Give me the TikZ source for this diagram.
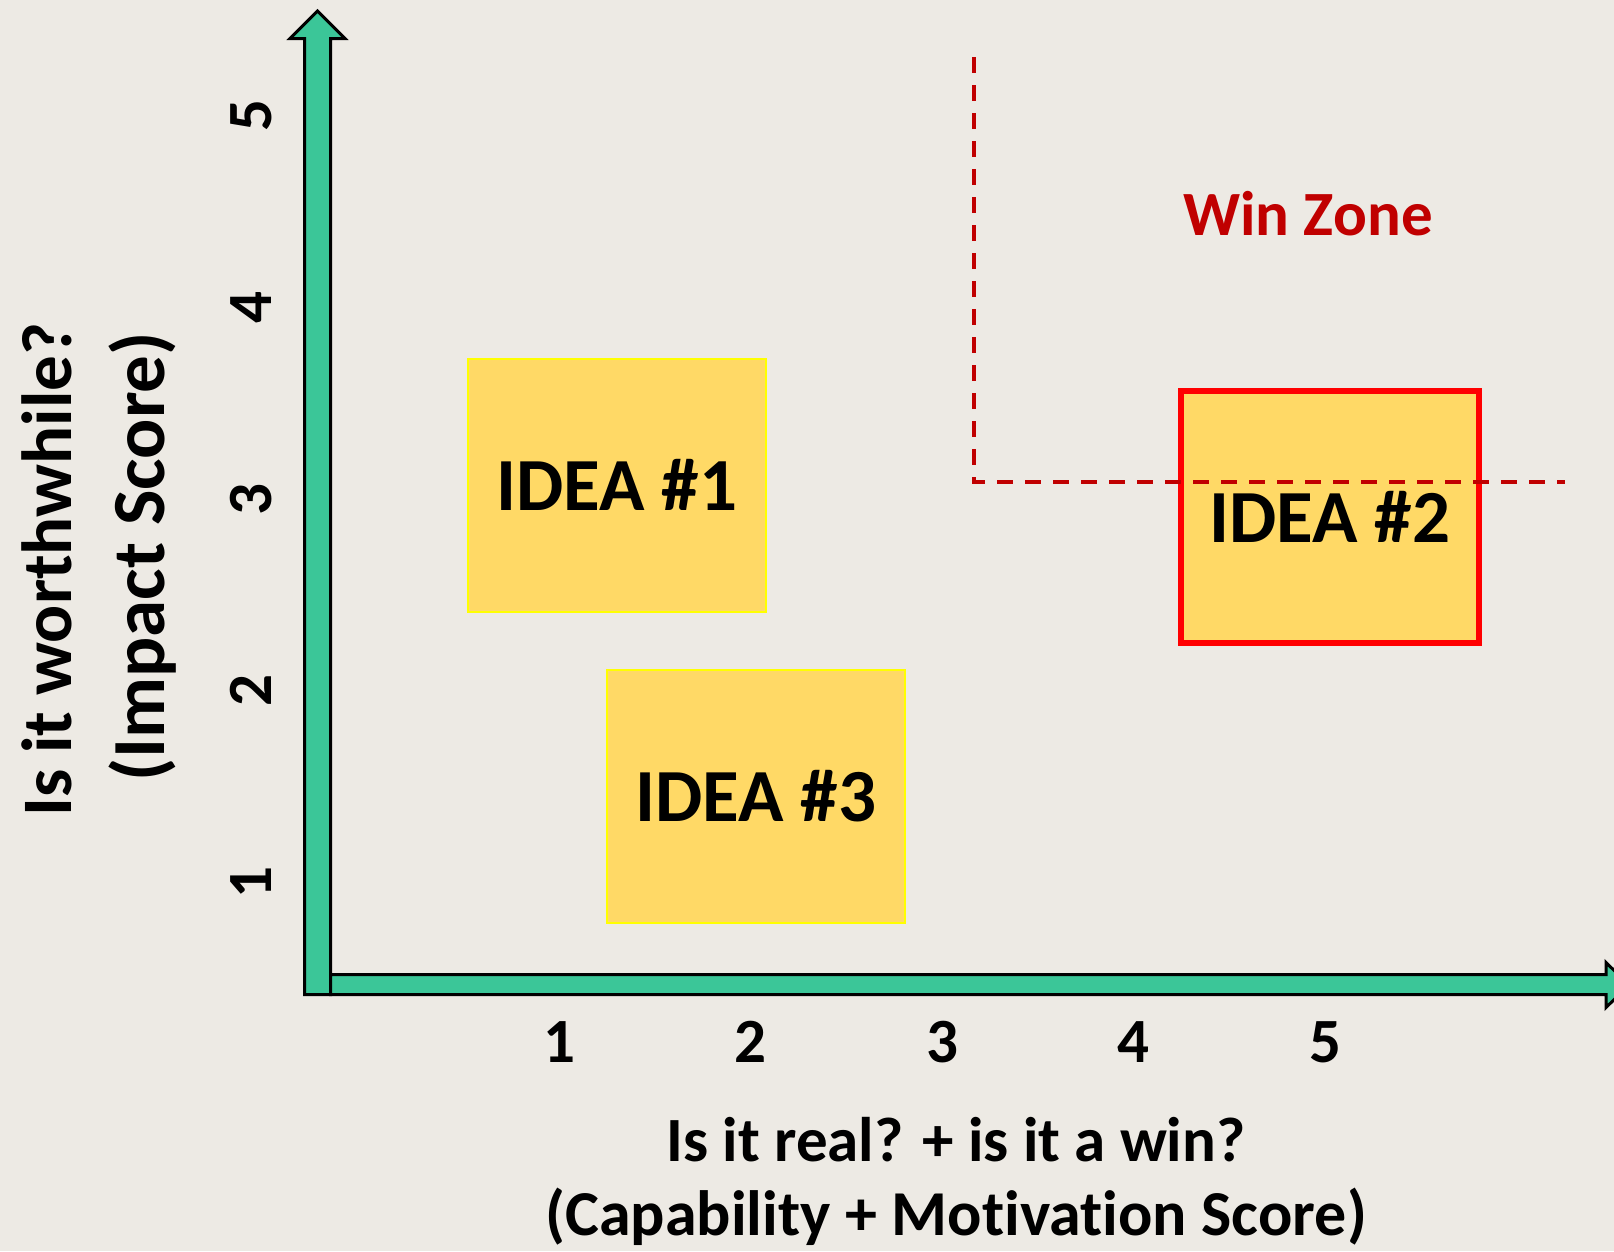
\documentclass[tikz,border=0pt]{standalone}
\usepackage{fontspec}
\setmainfont{Carlito}[Ligatures=CommonOff]
\definecolor{paper}{RGB}{237,234,228}
\definecolor{axisgreen}{RGB}{59,198,152}
\definecolor{ideafill}{RGB}{255,217,102}
\definecolor{ideaedge}{RGB}{255,255,0}
\definecolor{winred}{RGB}{192,0,0}
\definecolor{boxred}{RGB}{255,0,0}
\tikzset{
  axisarrow/.style={fill=axisgreen,draw=black,line width=3pt,line join=miter},
  ideabox/.style={fill=ideafill,draw=ideaedge,line width=2pt,inner sep=0pt,
    minimum width=298pt,minimum height=253pt,
    font=\fontsize{75}{90}\selectfont\bfseries},
  winbox/.style={ideabox,draw=boxred,line width=6pt,minimum width=298pt,minimum height=252pt},
  tick/.style={inner sep=0pt,anchor=base,font=\fontsize{63}{76}\selectfont\bfseries},
  ytick/.style={tick,rotate=90},
  xtitle/.style={inner sep=0pt,anchor=base,font=\fontsize{63}{76}\selectfont\bfseries},
  ytitle/.style={inner sep=0pt,anchor=base,rotate=90,font=\fontsize{71}{86}\selectfont\bfseries},
  winline/.style={draw=winred,line width=4pt,dash pattern=on 16pt off 12pt},
  wintext/.style={inner sep=0pt,anchor=base,text=winred,font=\fontsize{63}{76}\selectfont\bfseries}
}
\begin{document}
\begin{tikzpicture}[x=1pt,y=-1pt]
\useasboundingbox (0,0) rectangle (1614,1251);
\fill[paper] (0,0) rectangle (1614,1251);
\clip (0,0) rectangle (1614,1251);
% vertical axis arrow
\draw[axisarrow] (304.5,994.5) -- (304.5,38.5) -- (290,38.5) -- (317.5,11) -- (345,38.5) -- (330.5,38.5) -- (330.5,994.5) -- cycle;
% horizontal axis arrow
\draw[axisarrow] (330.5,974.5) -- (1606,974.5) -- (1606,962.5) -- (1629,985) -- (1606,1007.5) -- (1606,994.5) -- (330.5,994.5) -- cycle;
% y tick labels
\node[ytick] (y1) at (271,883) {1};
\node[ytick] (y2) at (271,691) {2};
\node[ytick] (y3) at (271,500) {3};
\node[ytick] (y4) at (271,308) {4};
\node[ytick] (y5) at (271,116) {5};
% x tick labels
\node[tick] (x1) at (559,1062) {1};
\node[tick] (x2) at (750,1062) {2};
\node[tick] (x3) at (942,1062) {3};
\node[tick] (x4) at (1133,1062) {4};
\node[tick] (x5) at (1325,1062) {5};
% axis titles
\node[ytitle] (yt1) at (71,570) {Is it worthwhile?};
\node[ytitle,font=\fontsize{75}{90}\selectfont\bfseries] (yt2) at (164,557) {(Impact Score)};
\node[xtitle] (xt1) at (956,1161) {Is it real? + is it a win?};
\node[xtitle,font=\fontsize{64}{77}\selectfont\bfseries] (xt2) at (956,1235) {(Capability + Motivation Score)};
% ideas
\node[ideabox] (idea1) at (617,485) {IDEA \#1};
\node[ideabox] (idea3) at (756,796) {IDEA \#3};
\node[winbox] (idea2) at (1330,517) {IDEA \#2};
% win zone
\coordinate (wz1) at (974,57);
\coordinate (wz2) at (974,482);
\coordinate (wz3) at (1565,482);
\draw[winline] (wz1) -- (wz2) -- (wz3);
\node[wintext] (win) at (1308,235) {Win Zone};
\end{tikzpicture}
\end{document}
